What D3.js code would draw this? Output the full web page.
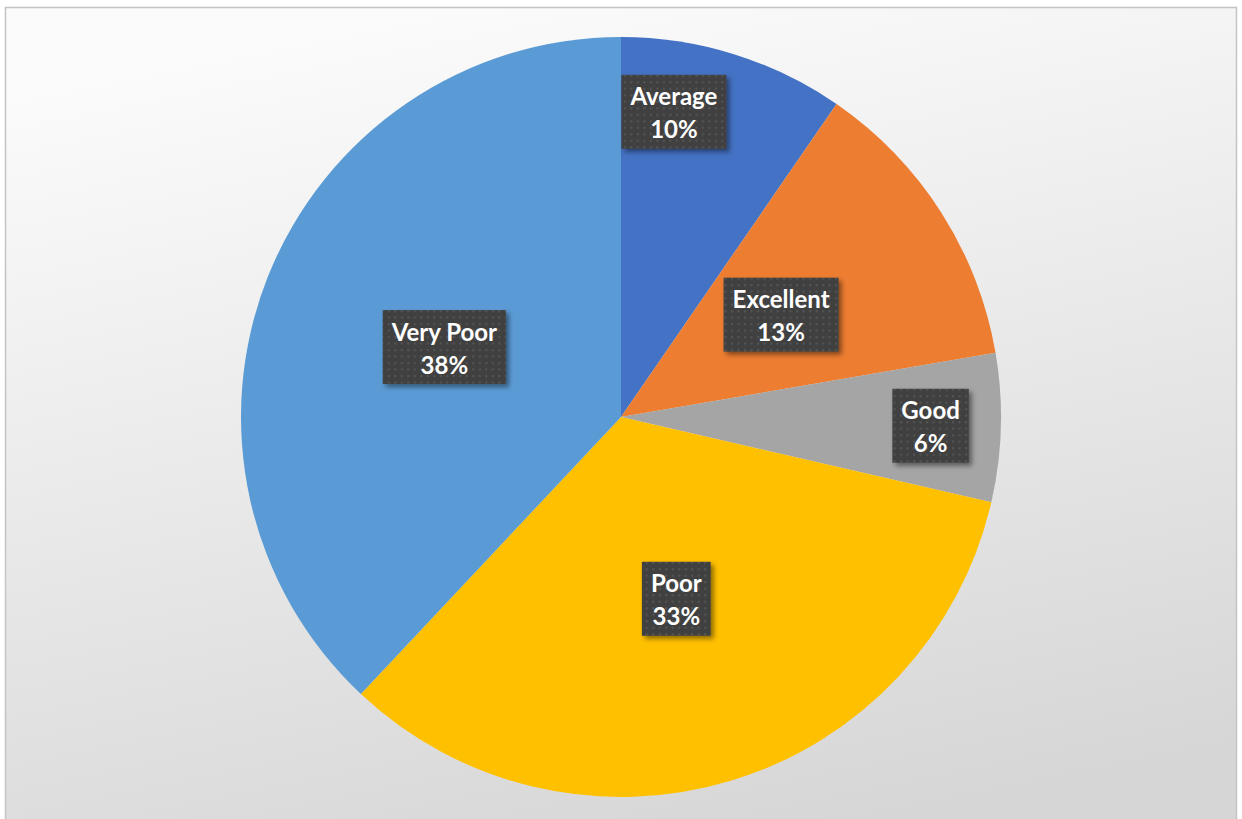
<!DOCTYPE html>
<html>
<head>
<meta charset="utf-8">
<script src="https://cdn.jsdelivr.net/npm/d3@7"></script>
<style>
  html, body { margin: 0; padding: 0; background: #fff; overflow: hidden; }
  text { font-family: Lato, "Open Sans", sans-serif; }
</style>
</head>
<body>
<script>
// DATA
var categories = ["Average", "Excellent", "Good", "Poor", "Very Poor"];
var values = [9.6, 12.7, 6.3, 33.4, 38.0];
var colors = ["#4472C4", "#ED7D31", "#A5A5A5", "#FFC000", "#5B9BD5"];

var width = 1242, height = 819;
var cx = 621, cy = 417, radius = 380;

var svg = d3.select("body").append("svg")
    .attr("width", width)
    .attr("height", height);

var defs = svg.append("defs");

// background gradient of the chart area
var bg = defs.append("linearGradient")
    .attr("id", "bg")
    .attr("x1", 0.35).attr("y1", 0)
    .attr("x2", 0.65).attr("y2", 1);
bg.append("stop").attr("offset", 0).attr("stop-color", "#fbfbfb");
bg.append("stop").attr("offset", 1).attr("stop-color", "#d6d6d6");

// dotted texture for the label boxes
var pat = defs.append("pattern")
    .attr("id", "dots")
    .attr("patternUnits", "userSpaceOnUse")
    .attr("width", 6.5).attr("height", 6.5);
pat.append("rect").attr("width", 6.5).attr("height", 6.5).attr("fill", "#404040");
pat.append("rect").attr("x", 2).attr("y", 2).attr("width", 2).attr("height", 2).attr("fill", "#565656");

var shadow = defs.append("filter")
    .attr("id", "shadow")
    .attr("x", "-20%").attr("y", "-20%")
    .attr("width", "150%").attr("height", "150%");
shadow.append("feDropShadow")
    .attr("dx", 3).attr("dy", 3)
    .attr("stdDeviation", 2.5)
    .attr("flood-color", "#000")
    .attr("flood-opacity", 0.45);

// chart frame
svg.append("rect")
    .attr("x", 5.5).attr("y", 7.5)
    .attr("width", 1231).attr("height", 830)
    .attr("fill", "url(#bg)")
    .attr("stroke", "#c4c4c4")
    .attr("stroke-width", 1.5);

var data = categories.map(function(c, i) {
  return { name: c, value: values[i], color: colors[i] };
});
var total = d3.sum(values);

var pie = d3.pie()
    .sort(null)
    .value(function(d) { return d.value; });

var arc = d3.arc().innerRadius(0).outerRadius(radius);
var labelArcOuter = d3.arc().innerRadius(radius * 0.815).outerRadius(radius * 0.815);
var labelArcInner = d3.arc().innerRadius(radius * 0.5).outerRadius(radius * 0.5);

var g = svg.append("g").attr("transform", "translate(" + cx + "," + cy + ")");

var arcs = pie(data);

g.selectAll("path.slice")
  .data(arcs)
  .enter().append("path")
    .attr("class", "slice")
    .attr("d", arc)
    .attr("fill", function(d) { return d.data.color; });

// data labels
var labels = g.selectAll("g.label")
  .data(arcs)
  .enter().append("g")
    .attr("class", "label")
    .attr("transform", function(d) {
      var small = d.data.value / total < 0.1;
      var p = (small ? labelArcOuter : labelArcInner).centroid(d);
      if (d.index === 0) {
        // keep the first label hugging the top of its slice
        var a = (d.startAngle + d.endAngle) / 2 - 0.13;
        var r = radius * 0.815;
        p = [Math.sin(a) * r, -Math.cos(a) * r];
      }
      return "translate(" + p[0] + "," + p[1] + ")";
    });

var box = labels.append("rect")
    .attr("fill", "url(#dots)")
    .attr("filter", "url(#shadow)");

labels.append("text")
    .attr("text-anchor", "middle")
    .attr("y", -6.5)
    .attr("fill", "#fff")
    .attr("font-size", 24)
    .attr("font-weight", "bold")
    .text(function(d) { return d.data.name; });

labels.append("text")
    .attr("text-anchor", "middle")
    .attr("y", 26.5)
    .attr("fill", "#fff")
    .attr("font-size", 24)
    .attr("font-weight", "bold")
    .text(function(d) { return Math.round(d.data.value / total * 100) + "%"; });

box.each(function() {
  var grp = d3.select(this.parentNode);
  var w = 0;
  grp.selectAll("text").each(function() { w = Math.max(w, this.getComputedTextLength()); });
  w += 18;
  d3.select(this)
    .attr("x", -w / 2).attr("y", -37)
    .attr("width", w).attr("height", 74);
});
</script>
</body>
</html>
